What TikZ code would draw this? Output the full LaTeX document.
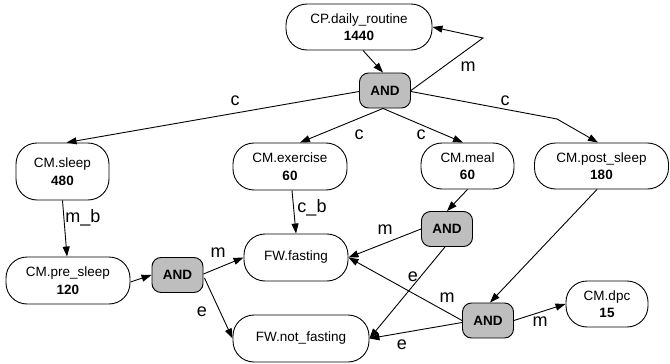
\documentclass[tikz,border=0pt]{standalone}
\usepackage{fontspec}
\setmainfont{Liberation Sans}
\usetikzlibrary{arrows.meta}
\definecolor{andgray}{RGB}{190,190,190}
\begin{document}
\begin{tikzpicture}[x=1pt,y=-1pt,
  box/.style={draw, rounded corners=21pt, align=center, inner sep=0pt, font=\fontsize{13.5}{17.5}\selectfont, line width=0.9pt},
  andbox/.style={draw, fill=andgray, rounded corners=9pt, inner sep=0pt, font=\fontsize{13.5}{16}\selectfont\bfseries, minimum width=51pt, minimum height=35pt, line width=0.9pt},
  arr/.style={-{Triangle[length=10pt,width=7pt]}, line width=0.9pt},
  lbl/.style={font=\fontsize{18}{20}\selectfont, inner sep=0pt}]
\useasboundingbox (0,0) rectangle (670,364);

\node[box, minimum width=146pt, minimum height=46pt] (cp) at (359,27) {CP.daily\_routine\\\textbf{1440}};
\node[andbox] (and1) at (385,90.5) {AND};
\node[box, minimum width=93pt, minimum height=57pt] (sleep) at (62.5,171.5) {CM.sleep\\\textbf{480}};
\node[box, minimum width=114pt, minimum height=47pt] (exercise) at (290,166.5) {CM.exercise\\\textbf{60}};
\node[box, minimum width=93pt, minimum height=46pt] (meal) at (467.5,166) {CM.meal\\\textbf{60}};
\node[box, minimum width=134pt, minimum height=46pt] (post) at (601.5,166) {CM.post\_sleep\\\textbf{180}};
\node[andbox] (and2) at (447,229) {AND};
\node[box, minimum width=124pt, minimum height=47pt] (pre) at (68,280.5) {CM.pre\_sleep\\\textbf{120}};
\node[andbox] (and3) at (177.5,275) {AND};
\node[box, minimum width=104pt, minimum height=47pt] (fasting) at (296,257.5) {FW.fasting};
\node[box, minimum width=136pt, minimum height=47pt] (notfasting) at (301,338.5) {FW.not\_fasting};
\node[andbox] (and4) at (488,320.5) {AND};
\node[box, minimum width=82pt, minimum height=46pt] (dpc) at (607,304) {CM.dpc\\\textbf{15}};

\coordinate (fb) at (483,38);
\coordinate (pb) at (557,119);

\draw[arr] ([xshift=4pt]cp.south) -- ([xshift=-2pt]and1.north);
\draw[arr] (and1.east) -- (fb) -- (cp.east);
\node[lbl] (lm1) at (468,67) {m};

\draw[arr] ([yshift=-1pt]and1.west) -- ([xshift=4pt]sleep.north);
\node[lbl] (lc1) at (235,101) {c};
\draw[arr] ([xshift=-2pt]and1.south) -- ([xshift=10pt]exercise.north);
\node[lbl] (lc2) at (359,135) {c};
\draw[arr] ([xshift=-2pt]and1.south) -- ([xshift=-4.5pt]meal.north);
\node[lbl] (lc3) at (421,135) {c};
\draw[arr] ([yshift=-1pt]and1.east) -- (pb) -- ([xshift=-3.5pt]post.north);
\node[lbl] (lc4) at (505,101) {c};

\draw[arr] (sleep.south) -- ([xshift=-1pt]pre.north);
\node[lbl] (lmb) at (83,218) {m\_b};
\draw[arr] ([xshift=2pt]exercise.south) -- (fasting.north);
\node[lbl] (lcb) at (312,208) {c\_b};

\draw[arr] ([yshift=-1.5pt]pre.east) -- (and3.west);
\draw[arr] ([yshift=1pt]and3.east) -- (fasting.west);
\node[lbl] (lm2) at (218,253) {m};
\draw[arr] ([xshift=1pt,yshift=-3pt]and3.east) -- (notfasting.west);
\node[lbl] (le1) at (202,312) {e};

\draw[arr] (meal.south) -- (and2.north);
\draw[arr] (and2.west) -- (fasting.east);
\node[lbl] (lm3) at (385,230) {m};
\draw[arr] ([xshift=-2pt]and2.south) -- (notfasting.east);
\node[lbl] (le2) at (413,277) {e};

\draw[arr] ([xshift=-4.5pt]post.south) -- ([xshift=2pt]and4.north);
\draw[arr] (and4.west) -- (fasting.east);
\node[lbl] (lm4) at (447,298) {m};
\draw[arr] ([yshift=-2pt]and4.west) -- (notfasting.east);
\node[lbl] (le3) at (402,345) {e};
\draw[arr] (and4.east) -- (dpc.west);
\node[lbl] (lm5) at (540,322) {m};
\end{tikzpicture}
\end{document}
